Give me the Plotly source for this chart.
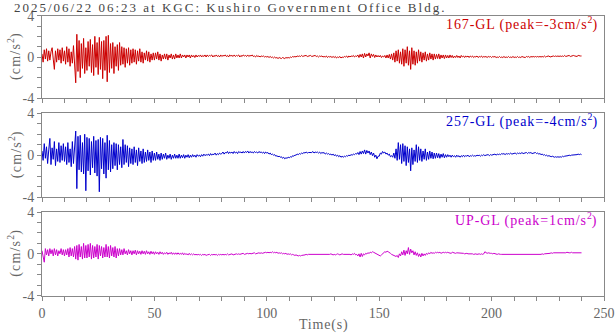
import numpy as np
import plotly.graph_objects as go

# time axis: 0 .. 240 s, 0.5 s step
time_s = np.arange(0, 240.5, 0.5)

# 167-GL (red) acceleration, cm/s^2
acc_167 = [
    0.3,-0.5,0.7,-0.2,0.8,-0.4,0.6,-0.3,0.5,0.9,-0.2,-1.2,0.6,-0.5,0.8,-0.3,0.7,-0.6,0.9,-0.4,
    0.6,-0.7,1.0,-0.5,0.8,-0.9,0.5,-0.6,1.1,-0.8,-2.5,2.2,-1.4,1.6,-2.0,1.3,-1.1,1.8,-1.6,0.9,
    -1.3,1.5,-0.9,1.7,-1.5,1.2,-1.8,2.0,-1.0,1.4,-1.7,1.9,-1.2,1.5,-2.1,1.6,-1.3,2.0,-2.4,2.1,
    -1.5,1.3,-1.1,1.4,-1.6,1.0,-0.9,1.2,-1.3,1.4,-0.8,1.0,-0.7,0.9,-1.0,0.8,-0.6,0.9,-0.8,0.7,
    -0.6,0.8,-0.5,0.7,-0.7,0.6,-0.4,0.8,-0.5,0.5,-0.6,0.4,-0.3,0.6,-0.4,0.5,-0.5,0.3,-0.3,0.4,
    -0.3,0.4,-0.2,0.5,-0.3,0.3,-0.4,0.2,-0.2,0.3,-0.2,0.3,-0.3,0.2,-0.1,0.3,-0.2,0.2,-0.2,0.3,
    -0.1,0.2,-0.1,0.3,-0.1,0.2,0.0,0.2,-0.1,0.2,0.0,0.2,-0.1,0.2,0.0,0.15,-0.05,0.2,0.0,0.15,
    0.05,0.2,0.0,0.15,0.05,0.2,0.0,0.2,0.05,0.15,0.1,0.2,0.0,0.15,0.05,0.2,0.05,0.15,0.0,0.2,
    0.05,0.15,0.1,0.2,0.05,0.15,0.0,0.2,0.1,0.15,0.05,0.2,0.05,0.15,0.1,0.2,0.0,0.15,0.05,0.2,
    0.1,0.15,0.05,0.2,0.05,0.15,0.1,0.2,0.05,0.1,0.0,0.15,0.05,0.1,0.0,0.1,0.05,0.1,0.0,0.05,
    0.0,0.05,-0.05,0.05,-0.05,0.0,-0.1,0.0,-0.1,-0.05,-0.15,-0.05,-0.1,-0.15,-0.05,-0.1,-0.15,-0.05,-0.1,-0.05,
    -0.1,0.0,-0.05,0.05,0.0,0.05,0.0,0.1,0.05,0.1,0.05,0.15,0.05,0.1,0.1,0.15,0.05,0.1,0.1,0.15,
    0.05,0.1,0.1,0.15,0.05,0.1,0.0,0.1,0.05,0.1,0.0,0.05,0.0,0.1,-0.05,0.05,0.0,0.05,-0.05,0.05,
    -0.05,0.05,-0.1,0.0,-0.05,0.05,-0.1,0.0,-0.05,0.05,0.0,0.1,-0.05,0.1,0.0,0.1,0.05,0.15,0.0,0.1,
    0.05,0.2,-0.05,0.25,0.0,0.3,-0.1,0.35,0.0,0.3,0.1,0.4,-0.1,0.3,0.05,0.25,-0.05,0.2,0.0,0.15,
    0.0,0.15,-0.05,0.1,0.0,0.15,-0.1,0.2,-0.1,0.25,-0.2,0.3,-0.3,0.4,-0.5,0.6,-0.4,0.7,-0.6,0.5,
    -0.7,0.8,-0.9,0.7,-0.6,1.0,-0.8,0.6,-1.2,0.9,-0.7,0.6,-0.8,0.5,-0.6,0.7,-0.4,0.5,-0.5,0.4,
    -0.3,0.5,-0.4,0.3,-0.3,0.4,-0.2,0.3,-0.3,0.3,-0.2,0.25,-0.15,0.3,-0.2,0.2,-0.1,0.2,-0.15,0.2,
    -0.1,0.15,-0.1,0.2,-0.05,0.15,-0.1,0.1,-0.05,0.15,-0.05,0.1,-0.1,0.15,0.0,0.1,-0.05,0.1,0.0,0.1,
    -0.05,0.1,0.0,0.1,-0.05,0.05,0.0,0.1,-0.05,0.05,0.0,0.1,-0.05,0.05,0.0,0.05,-0.05,0.05,0.0,0.05,
    -0.05,0.05,0.0,0.05,-0.05,0.0,-0.05,0.05,-0.05,0.0,-0.05,0.05,-0.05,0.0,-0.05,0.05,-0.05,0.0,-0.05,0.05,
    -0.05,0.0,-0.05,0.05,-0.05,0.0,-0.05,0.05,0.0,0.0,-0.05,0.05,0.0,0.05,-0.05,0.05,0.0,0.05,0.0,0.05,
    0.0,0.05,0.0,0.05,0.0,0.05,0.0,0.1,0.0,0.05,0.05,0.1,0.0,0.05,0.05,0.1,0.05,0.1,0.05,0.1,
    0.05,0.1,0.05,0.1,0.05,0.15,0.05,0.1,0.1,0.15,0.05,0.1,0.1,0.15,0.1,0.1,0.05,0.15,0.1,0.1,
    0.1,
]

# 257-GL (blue)
acc_257 = [
    0.4,-0.5,1.1,-0.3,0.8,-0.8,0.5,1.6,-0.9,0.7,-0.4,1.3,-1.0,0.6,-0.6,1.2,-0.7,0.9,-0.5,1.1,
    -0.6,0.8,-0.9,1.2,-0.7,0.6,-1.1,1.3,-0.8,1.5,2.3,-3.2,1.8,-1.4,1.9,-1.6,1.2,-1.8,2.0,-3.4,
    1.7,-1.5,1.6,-1.9,1.3,-1.2,1.8,-1.7,1.4,-2.0,1.5,-3.5,1.7,-1.3,1.6,-1.8,1.2,-2.2,1.9,-1.4,
    1.4,-1.6,1.0,-1.3,1.2,-1.0,1.1,-1.4,1.0,-0.9,0.8,-1.2,1.5,-0.9,1.0,-0.7,0.9,-1.1,0.7,-0.8,
    0.6,-0.9,0.8,-0.7,0.5,-1.0,0.7,-0.6,0.4,-0.8,0.6,-0.7,0.3,-0.6,0.5,-0.5,0.3,-0.7,0.4,-0.5,
    0.2,-0.5,0.3,-0.4,0.1,-0.5,0.2,-0.4,0.1,-0.3,0.2,-0.4,0.0,-0.3,0.1,-0.4,0.0,-0.3,0.1,-0.3,
    0.0,-0.3,0.1,-0.3,0.0,-0.25,0.05,-0.3,0.0,-0.2,0.05,-0.25,0.0,-0.2,0.05,-0.15,0.0,-0.2,0.05,-0.1,
    0.0,-0.15,0.05,-0.1,0.1,-0.05,0.05,0.0,0.1,-0.05,0.15,0.0,0.1,0.05,0.2,0.0,0.15,0.05,0.2,0.1,
    0.15,0.3,0.1,0.25,0.2,0.35,0.15,0.3,0.2,0.3,0.15,0.35,0.2,0.3,0.15,0.35,0.25,0.3,0.2,0.35,
    0.2,0.35,0.25,0.4,0.2,0.35,0.25,0.3,0.2,0.35,0.25,0.3,0.2,0.35,0.25,0.3,0.2,0.3,0.15,0.3,
    0.2,0.25,0.1,0.2,0.05,0.1,0.0,0.05,-0.1,-0.05,-0.15,-0.1,-0.2,-0.15,-0.3,-0.2,-0.35,-0.25,-0.3,-0.2,
    -0.25,-0.15,-0.2,-0.05,-0.1,0.0,0.0,0.1,0.05,0.15,0.1,0.2,0.15,0.25,0.2,0.3,0.2,0.25,0.25,0.3,
    0.25,0.35,0.2,0.3,0.25,0.3,0.2,0.3,0.15,0.25,0.2,0.25,0.1,0.2,0.1,0.15,0.05,0.1,0.0,0.1,
    -0.05,0.05,-0.1,0.0,-0.15,-0.05,-0.2,-0.1,-0.2,-0.1,-0.15,-0.05,-0.1,0.0,-0.05,0.05,0.0,0.1,0.05,0.15,
    0.1,0.25,0.05,0.35,0.1,0.4,0.15,0.5,0.1,0.45,0.2,0.4,0.05,0.3,-0.05,0.2,-0.2,0.0,-0.35,-0.1,
    -0.1,0.2,0.1,0.35,0.2,0.3,0.1,0.2,0.0,0.1,-0.15,-0.05,-0.2,0.2,-0.3,0.6,-0.5,1.2,-0.4,1.0,
    -0.8,1.1,-0.6,0.9,-1.0,0.8,-0.7,0.6,-1.5,0.7,-0.9,0.5,-0.6,1.0,-0.7,0.8,-0.5,0.6,-0.6,0.4,
    -0.4,0.6,-0.5,0.3,-0.4,0.4,-0.3,0.3,-0.35,0.2,-0.3,0.2,-0.25,0.15,-0.3,0.1,-0.2,0.15,-0.25,0.05,
    -0.2,0.05,-0.15,0.0,-0.2,0.0,-0.15,-0.05,-0.2,0.0,-0.15,-0.05,-0.2,-0.05,-0.15,0.0,-0.15,-0.05,-0.1,0.0,
    -0.15,-0.05,-0.1,0.0,-0.1,-0.05,-0.1,0.0,-0.05,0.0,-0.1,0.0,-0.05,0.05,-0.05,0.0,0.0,0.05,-0.05,0.05,
    0.0,0.05,0.05,0.1,0.0,0.1,0.05,0.1,0.05,0.15,0.1,0.15,0.05,0.15,0.1,0.15,0.1,0.2,0.1,0.15,
    0.15,0.2,0.1,0.2,0.15,0.2,0.15,0.25,0.15,0.2,0.2,0.25,0.15,0.25,0.2,0.25,0.15,0.2,0.2,0.25,
    0.15,0.2,0.1,0.15,0.05,0.1,0.0,0.05,-0.05,0.0,-0.1,-0.05,-0.1,-0.15,-0.1,-0.15,-0.2,-0.15,-0.2,-0.15,
    -0.2,-0.15,-0.2,-0.1,-0.15,-0.1,-0.1,-0.05,-0.05,0.0,-0.05,0.0,0.0,0.05,0.0,0.05,0.05,0.1,0.05,0.1,
    0.05,
]

# UP-GL (magenta)
acc_up = [
    0.3,-0.2,-0.8,0.5,-0.1,0.4,-0.2,0.5,0.0,0.4,-0.2,0.5,-0.1,0.4,-0.2,0.3,0.0,0.5,-0.1,0.4,
    -0.2,0.4,-0.1,0.5,-0.3,0.6,-0.2,0.5,-0.3,0.7,-0.5,0.8,-0.6,0.9,-0.3,0.7,-0.5,1.0,-0.4,0.8,
    -0.4,0.9,-0.3,1.0,-0.5,0.8,-0.4,0.7,-0.3,0.9,-0.5,0.8,-0.2,0.7,-0.4,0.6,-0.3,0.9,-0.3,0.7,
    -0.4,0.8,-0.2,0.6,-0.3,0.7,-0.4,0.5,-0.2,0.5,-0.1,0.4,-0.1,0.5,0.0,0.3,-0.1,0.4,0.0,0.3,
    -0.1,0.3,0.0,0.35,-0.1,0.3,0.0,0.25,-0.05,0.3,0.0,0.25,-0.05,0.3,0.0,0.2,-0.05,0.25,0.0,0.2,
    -0.05,0.2,0.0,0.15,-0.05,0.2,0.0,0.15,-0.05,0.1,0.0,0.15,-0.05,0.1,0.0,0.15,-0.05,0.1,-0.05,0.1,
    -0.05,0.1,-0.05,0.05,-0.05,0.1,-0.1,0.05,-0.05,0.0,-0.1,0.05,-0.1,0.0,-0.1,0.0,-0.1,-0.05,-0.1,-0.05,
    -0.1,-0.05,-0.15,-0.05,-0.1,-0.05,-0.15,-0.1,-0.1,-0.05,-0.15,-0.05,-0.1,-0.05,-0.1,-0.05,-0.15,-0.05,-0.1,-0.05,
    -0.1,-0.05,-0.1,-0.05,-0.1,0.0,-0.1,-0.05,-0.05,0.0,-0.1,-0.05,-0.05,0.0,-0.05,0.0,-0.05,0.0,0.0,0.05,
    -0.05,0.0,0.0,0.05,0.0,0.05,0.0,0.05,0.05,0.1,0.0,0.05,0.05,0.1,0.05,0.1,0.05,0.1,0.1,0.15,
    0.1,0.15,0.1,0.15,0.1,0.2,0.1,0.15,0.1,0.15,0.05,0.1,0.05,0.1,0.0,0.05,0.0,0.05,-0.05,0.0,
    -0.05,0.0,-0.1,-0.05,-0.1,-0.15,-0.1,-0.15,-0.2,-0.15,-0.2,-0.15,-0.15,-0.1,-0.1,-0.05,-0.1,-0.05,-0.05,-0.1,
    -0.05,-0.1,-0.05,-0.1,-0.05,-0.1,-0.1,-0.05,-0.1,-0.05,-0.1,-0.05,-0.05,-0.1,-0.05,-0.1,-0.05,0.0,-0.05,-0.1,
    -0.05,-0.1,-0.05,0.0,-0.05,-0.1,-0.05,0.0,-0.05,-0.05,0.0,-0.05,-0.05,0.0,-0.05,-0.1,0.0,-0.05,0.05,-0.1,
    -0.05,-0.2,0.0,-0.3,0.05,-0.25,0.0,-0.1,0.05,0.0,0.1,0.05,0.15,0.1,0.2,0.15,0.1,0.05,0.0,-0.05,
    -0.15,-0.2,-0.1,0.0,0.1,0.2,0.15,0.25,0.2,0.15,0.05,-0.05,-0.1,-0.15,-0.2,-0.25,-0.15,-0.35,0.0,-0.2,
    0.2,-0.1,0.35,-0.15,0.3,0.0,0.6,-0.05,0.45,0.1,0.3,-0.1,0.2,-0.15,0.1,-0.25,0.0,-0.3,0.05,-0.2,
    0.0,-0.15,0.05,-0.05,0.1,0.0,0.15,0.05,0.1,0.05,0.15,0.1,0.15,0.1,0.15,0.05,0.1,0.15,0.1,0.15,
    0.1,0.15,0.1,0.1,0.05,0.15,0.1,0.1,0.05,0.1,0.1,0.05,0.05,0.1,0.05,0.05,0.0,0.05,0.05,0.0,
    0.0,0.05,0.0,0.0,-0.05,0.0,0.0,-0.05,0.0,0.0,-0.05,0.0,-0.05,0.0,0.2,0.1,0.05,0.1,0.05,0.05,
    0.05,0.0,0.05,0.0,0.0,-0.05,0.0,-0.05,-0.05,-0.05,-0.05,-0.1,-0.05,-0.1,-0.05,-0.1,-0.1,-0.05,-0.1,-0.1,
    -0.1,-0.05,-0.1,-0.1,-0.05,-0.1,-0.1,-0.05,-0.1,-0.1,-0.1,-0.05,-0.1,-0.1,-0.05,-0.1,-0.1,-0.05,-0.1,-0.1,
    -0.1,-0.05,-0.1,-0.05,-0.05,0.0,-0.05,0.0,0.0,0.05,0.0,0.05,0.05,0.1,0.05,0.1,0.1,0.1,0.05,0.1,
    0.1,0.1,0.05,0.1,0.1,0.1,0.1,0.15,0.1,0.1,0.1,0.15,0.1,0.1,0.15,0.1,0.1,0.1,0.1,0.1,
    0.1,
]

series_names = ["167-GL", "257-GL", "UP-GL"]
series_peaks = ["-3", "-4", "1"]
series_colors = ["#CC0000", "#0000CC", "#CC00CC"]
series_data = [acc_167, acc_257, acc_up]

title_text = "2025/06/22 06:23 at KGC: Kushiro Government Office Bldg."
x_tick_vals = list(range(0, 251, 10))
x_tick_text = [str(v) if v % 50 == 0 else "" for v in x_tick_vals]
y_tick_vals = list(range(-4, 5))
y_tick_text = [str(v) if v in (-4, 0, 4) else "" for v in y_tick_vals]

W, H = 616, 334
PW = 562  # plot width in px
FONT = "Liberation Serif"
AX = "#888888"
TXT = "#666666"
# panel extents in pixels (top, bottom)
panels_px = [(15.7, 98.3), (113.3, 197.0), (212.0, 295.7)]


def spaced(s, px):
    return f'<span style="letter-spacing:{px}px">{s}</span>'


fig = go.Figure()
layout = dict(
    template="none",
    width=W, height=H,
    margin=dict(l=42, r=12, t=0, b=0, autoexpand=False),
    paper_bgcolor="white", plot_bgcolor="white",
    showlegend=False,
    font=dict(family=FONT, size=14, color=TXT),
)
annotations = []
for i, (name, peak, col, data) in enumerate(zip(series_names, series_peaks, series_colors, series_data)):
    k = "" if i == 0 else str(i + 1)
    fig.add_trace(go.Scatter(x=time_s, y=data, mode="lines",
                             line=dict(color=col, width=1),
                             xaxis="x" + k, yaxis="y" + k, hoverinfo="skip"))
    top, bot = panels_px[i]
    dom = [1 - bot / H, 1 - top / H]
    layout["xaxis" + k] = dict(
        domain=[0, 1], range=[0, 250], anchor="y" + k, automargin=False,
        tickmode="array", tickvals=x_tick_vals, ticktext=x_tick_text,
        showticklabels=(i == 2), ticks="outside", ticklen=4, tickcolor=AX, tickwidth=1,
        showline=True, linecolor=AX, linewidth=1, mirror=True,
        showgrid=False, zeroline=False,
        tickfont=dict(family=FONT, size=14, color=TXT),
    )
    layout["yaxis" + k] = dict(
        domain=dom, range=[-4, 4], anchor="x" + k, automargin=False,
        tickmode="array", tickvals=y_tick_vals, ticktext=y_tick_text,
        ticks="outside", ticklen=4, tickcolor=AX, tickwidth=1,
        showline=True, linecolor=AX, linewidth=1, mirror=True,
        showgrid=False, zeroline=False,
        tickfont=dict(family=FONT, size=14, color=TXT),
    )
    annotations.append(dict(
        text=spaced(f"{name} (peak={peak}cm/s", 0.9) + "<sup>2</sup>)",
        xref="paper", yref="paper",
        x=1 - 5 / PW, y=1 - (top + 7.5) / H, xanchor="right", yanchor="middle",
        showarrow=False, font=dict(family=FONT, size=14, color=col)))
    annotations.append(dict(
        text=spaced("(cm/s", 1.2) + "<sup>2</sup>)", xref="paper", yref="paper",
        x=(15 - 42) / PW, y=1 - ((top + bot) / 2) / H, xanchor="center", yanchor="middle",
        textangle=-90, showarrow=False, font=dict(family=FONT, size=14, color=TXT)))

annotations.append(dict(
    text=spaced(title_text, 2.0), xref="paper", yref="paper",
    x=(12 - 42) / PW, y=1 - 7 / H, xanchor="left", yanchor="middle",
    showarrow=False, font=dict(family=FONT, size=13, color="#444444")))
annotations.append(dict(
    text=spaced("Time(s)", 0.8), xref="paper", yref="paper",
    x=(323 - 42) / PW, y=1 - 325 / H, xanchor="center", yanchor="middle",
    showarrow=False, font=dict(family=FONT, size=14, color=TXT)))
layout["annotations"] = annotations
fig.update_layout(**layout)
fig.write_html("out.html")
